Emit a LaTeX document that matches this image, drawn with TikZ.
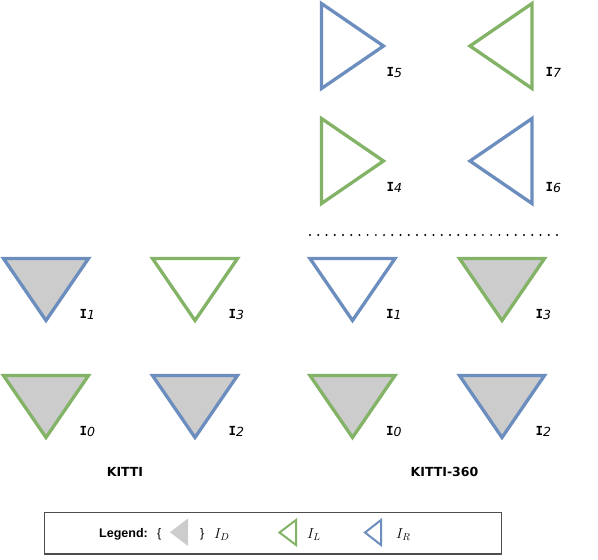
\documentclass[tikz,border=0pt]{standalone}
\usepackage{fontspec}
\setmainfont{DejaVu Sans}
\newfontfamily\legendfont{Liberation Sans}
\newfontfamily\camIfont{DejaVu Sans Mono}
\usetikzlibrary{positioning}
\definecolor{camBlue}{HTML}{6C8EBF}
\definecolor{camGreen}{HTML}{82B366}
\definecolor{camGray}{HTML}{CCCCCC}
\definecolor{boxGray}{HTML}{4D4D4D}
\newcommand{\camtag}[1]{{\camIfont\bfseries I}{\itshape\raisebox{-1pt}{#1}}}

\begin{document}
\begin{tikzpicture}[x=1pt, y=-1pt,
  cam/.style={line width=3.3pt, line join=miter},
  camlbl/.style={anchor=base west, inner sep=0pt, font=\fontsize{12.5}{15}\selectfont},
  setname/.style={inner sep=0pt, font=\bfseries\fontsize{12.5}{15}\selectfont},
  lgd/.style={anchor=base west, inner sep=0pt, font=\legendfont\fontsize{12.5}{15}\selectfont}]
  \useasboundingbox (0,0) rectangle (598,560);
  % down-facing cameras of both rigs
  \foreach \nm/\x/\y/\col/\fil/\id in {a1/3.5/258.5/camBlue/camGray/1, a3/152.5/258.5/camGreen/white/3,
      a0/3.5/375.5/camGreen/camGray/0, a2/152.5/375.5/camBlue/camGray/2,
      b1/310/258.5/camBlue/white/1, b3/459.5/258.5/camGreen/camGray/3,
      b0/310/375.5/camGreen/camGray/0, b2/459.5/375.5/camBlue/camGray/2} {
    \draw[cam, draw=\col, fill=\fil] (\x,\y) -- ++(85,0) -- ++(-42.5,62) -- cycle;
    \node[camlbl] (l\nm) at (\x+76,\y+60) {\camtag{\id}};
  }
  % side cameras of KITTI-360
  \foreach \nm/\x/\y/\d/\col/\id/\dx in {c5/321.5/3.5/1/camBlue/5/65, c4/321.5/118.5/1/camGreen/4/65,
      c7/532/3.5/-1/camGreen/7/13.5, c6/532/118.5/-1/camBlue/6/13.5} {
    \draw[cam, draw=\col] (\x,\y) -- ++(62*\d,42.5) -- ++(-62*\d,42.5) -- cycle;
    \node[camlbl] (l\nm) at (\x+\dx,\y+73) {\camtag{\id}};
  }
  % separator
  \coordinate (sepL) at (310,235);
  \coordinate (sepR) at (557,235);
  \draw[line width=2.2pt, line cap=round, dash pattern=on 0pt off 8.233pt] (sepL) -- (sepR);

  \node[setname] (kitti) at (125,472) {KITTI};
  \node[setname] (kitti360) at (444.5,472) {KITTI-360};

  % legend
  \node[draw=boxGray, line width=1.3pt, minimum width=456.6pt, minimum height=41.7pt, inner sep=0pt] (legend) at (273,533.2) {};
  \node[lgd, font=\legendfont\bfseries\fontsize{12.5}{15}\selectfont] (lgdtitle) at (99,537) {Legend:};
  \node[lgd] (lbrace) at (157,537) {\{};
  \fill[camGray] (188,518.5) -- (188,546) -- (170,532.2) -- cycle;
  \node[lgd] (rbrace) at (200,537) {\}};
  \node[lgd, font=\fontsize{14.5}{17}\selectfont] (iD) at (214,538) {$I_D$};
  \draw[line width=2pt, camGreen] (296,520) -- (296,545) -- (279.5,532.5) -- cycle;
  \node[lgd, font=\fontsize{14.5}{17}\selectfont] (iL) at (307,538) {$I_L$};
  \draw[line width=2pt, camBlue] (381,520) -- (381,545) -- (365,532.5) -- cycle;
  \node[lgd, font=\fontsize{14.5}{17}\selectfont] (iR) at (396,538) {$I_R$};
\end{tikzpicture}
\end{document}
